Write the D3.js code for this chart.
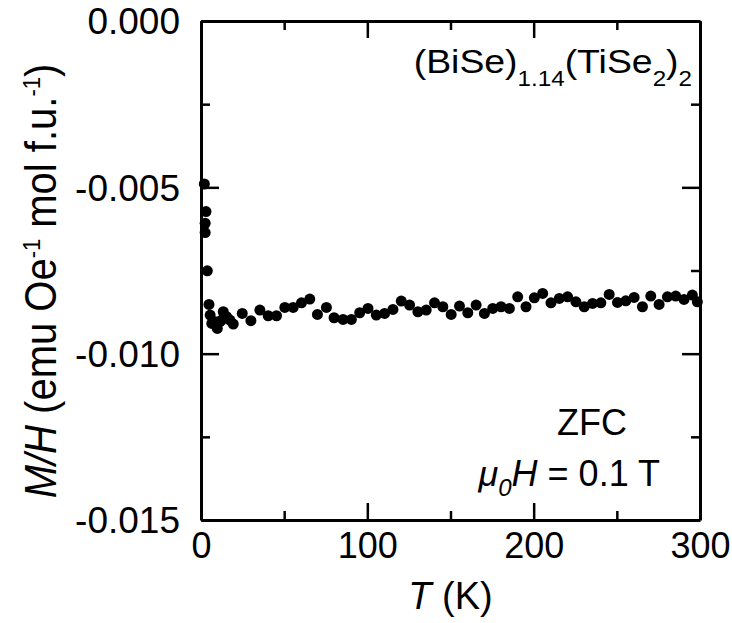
<!DOCTYPE html>
<html>
<head>
<meta charset="utf-8">
<script src="https://cdn.jsdelivr.net/npm/d3@7"></script>
<style>
  body { margin: 0; background: #fff; }
  svg text { font-family: "Liberation Sans", Arial, sans-serif; fill: #000; }
</style>
</head>
<body>
<svg width="732" height="623"></svg>
<script>
(function (d3) {
  'use strict';

  // temperature (K)
  const temps = [2, 3, 2.5, 2.5, 3.8, 4.8, 5.5, 6.5, 8.4, 9.8, 11.4, 12.4, 13.4, 15.4, 17.4, 19.4,
    24.8, 30, 35.4, 40.4, 45.4, 50.4, 55.4, 60.4, 65.4, 70, 75.4, 80, 85.4, 90.4, 95.4,
    100.4, 105.4, 110.4, 115.4, 120.4, 125.4, 130.4, 135.4, 140.4, 145.4, 150.4, 155.4,
    160.4, 165.4, 170.4, 175.4, 180.4, 185.4, 190.4, 195.4, 200.4, 205.4, 210.4, 215.4,
    220.4, 225.4, 230.4, 235.4, 240.4, 245.4, 250.4, 255.4, 260.4, 265.4, 270.4, 275.4,
    280.4, 285.4, 290.4, 295.4, 298.4];
  // M/H (emu Oe-1 mol f.u.-1)
  const mh = [-0.00490, -0.00573, -0.00608, -0.00636, -0.00751, -0.00852, -0.00884, -0.00909,
    -0.00904, -0.00924, -0.00904, -0.00899, -0.00874, -0.00889, -0.00899, -0.00911,
    -0.00879, -0.00901, -0.00869, -0.00886, -0.00886, -0.00861, -0.00861, -0.00847, -0.00836,
    -0.00882, -0.00861, -0.00892, -0.00897, -0.00897, -0.00877,
    -0.00864, -0.00884, -0.00879, -0.00867, -0.00842, -0.00854, -0.00874, -0.00869, -0.00847,
    -0.00859, -0.00882, -0.00857, -0.00877, -0.00854, -0.00879, -0.00864, -0.00859, -0.00864,
    -0.00829, -0.00859, -0.00832, -0.00819, -0.00847, -0.00834, -0.00829, -0.00844, -0.00859,
    -0.00849, -0.00847, -0.00822, -0.00846, -0.00841, -0.00831, -0.00859, -0.00827, -0.00852,
    -0.00829, -0.00827, -0.00837, -0.00824, -0.00844];

  const xMajor = [0, 100, 200, 300];
  const xMinor = [50, 150, 250];
  const yMajor = [0, -0.005, -0.010, -0.015];
  const yMinor = [-0.0025, -0.0075, -0.0125];
  const yTickLabels = ['0.000', '-0.005', '-0.010', '-0.015'];

  const data = temps.map((t, i) => ({ t, v: mh[i] }));

  const svg = d3.select('svg');
  const margin = { top: 21, right: 32, bottom: 103, left: 201 };
  const width = +svg.attr('width');
  const height = +svg.attr('height');
  const innerWidth = width - margin.left - margin.right;
  const innerHeight = height - margin.top - margin.bottom;

  const xScale = d3.scaleLinear().domain([0, 300]).range([0, innerWidth]);
  const yScale = d3.scaleLinear().domain([-0.015, 0]).range([innerHeight, 0]);

  const g = svg.append('g')
    .attr('transform', `translate(${margin.left},${margin.top})`);

  // points
  g.selectAll('circle').data(data)
    .enter().append('circle')
      .attr('cx', d => xScale(d.t))
      .attr('cy', d => yScale(d.v))
      .attr('r', 5.5)
      .attr('fill', '#000');

  const styleAxis = (sel, fontSize) => {
    sel.selectAll('.domain').attr('stroke', '#000').attr('stroke-width', 3);
    sel.selectAll('.tick line').attr('stroke', '#000').attr('stroke-width', 2.5);
    sel.selectAll('.tick text')
      .style('font-size', (fontSize || 36) + 'px')
      .style('font-family', '"Liberation Sans", Arial, sans-serif')
      .attr('fill', '#000');
  };

  // bottom axis
  const xAxisG = g.append('g')
    .attr('transform', `translate(0,${innerHeight})`)
    .call(d3.axisBottom(xScale).tickValues(xMajor).tickFormat(d3.format('d'))
      .tickSizeInner(-17).tickSizeOuter(0));
  styleAxis(xAxisG, 36);
  xAxisG.selectAll('.tick text').attr('y', 38).attr('dy', 0);

  const xMinorG = g.append('g')
    .attr('transform', `translate(0,${innerHeight})`)
    .call(d3.axisBottom(xScale).tickValues(xMinor).tickFormat('')
      .tickSizeInner(-9).tickSizeOuter(0));
  styleAxis(xMinorG);
  xMinorG.select('.domain').remove();

  // top axis
  const xTopG = g.append('g')
    .call(d3.axisTop(xScale).tickValues(xMajor).tickFormat('')
      .tickSizeInner(-17).tickSizeOuter(0));
  styleAxis(xTopG);
  const xTopMinorG = g.append('g')
    .call(d3.axisTop(xScale).tickValues(xMinor).tickFormat('')
      .tickSizeInner(-9).tickSizeOuter(0));
  styleAxis(xTopMinorG);
  xTopMinorG.select('.domain').remove();

  // left axis
  const yAxisG = g.append('g')
    .call(d3.axisLeft(yScale).tickValues(yMajor)
      .tickFormat((d, i) => yTickLabels[i])
      .tickSizeInner(-18).tickSizeOuter(0));
  styleAxis(yAxisG, 37);
  yAxisG.selectAll('.tick text').attr('x', -21).attr('dy', '0.35em');

  const yMinorG = g.append('g')
    .call(d3.axisLeft(yScale).tickValues(yMinor).tickFormat('')
      .tickSizeInner(-9).tickSizeOuter(0));
  styleAxis(yMinorG);
  yMinorG.select('.domain').remove();

  // right axis
  const yRightG = g.append('g')
    .attr('transform', `translate(${innerWidth},0)`)
    .call(d3.axisRight(yScale).tickValues(yMajor).tickFormat('')
      .tickSizeInner(-18).tickSizeOuter(0));
  styleAxis(yRightG);
  const yRightMinorG = g.append('g')
    .attr('transform', `translate(${innerWidth},0)`)
    .call(d3.axisRight(yScale).tickValues(yMinor).tickFormat('')
      .tickSizeInner(-9).tickSizeOuter(0));
  styleAxis(yRightMinorG);
  yRightMinorG.select('.domain').remove();

  // x axis label
  const xLabel = svg.append('text')
    .attr('x', margin.left + innerWidth / 2)
    .attr('y', 609)
    .attr('text-anchor', 'middle')
    .style('font-size', '38px');
  xLabel.append('tspan').style('font-style', 'italic').text('T');
  xLabel.append('tspan').text(' (K)');

  // y axis label
  const yLabel = svg.append('text')
    .attr('transform', `translate(56,281) rotate(-90) scale(1,1.1)`)
    .attr('text-anchor', 'middle')
    .style('font-size', '40px');
  yLabel.append('tspan').style('font-style', 'italic').text('M/H');
  yLabel.append('tspan').text(' (emu Oe');
  yLabel.append('tspan').attr('dy', -15).style('font-size', '22px').text('-1');
  yLabel.append('tspan').attr('dy', 15).text(' mol f.u.');
  yLabel.append('tspan').attr('dy', -15).style('font-size', '22px').text('-1');
  yLabel.append('tspan').attr('dy', 15).text(')');

  // compound annotation
  const comp = svg.append('text')
    .attr('transform', 'translate(692,73) scale(1.1,1)')
    .attr('text-anchor', 'end')
    .style('font-size', '34px');
  comp.append('tspan').text('(BiSe)');
  comp.append('tspan').attr('dy', 13).style('font-size', '22px').text('1.14');
  comp.append('tspan').attr('dy', -13).text('(TiSe');
  comp.append('tspan').attr('dy', 13).style('font-size', '22px').text('2');
  comp.append('tspan').attr('dy', -13).text(')');
  comp.append('tspan').attr('dy', 13).style('font-size', '22px').text('2');

  // field annotation
  svg.append('text')
    .attr('x', 592)
    .attr('y', 435)
    .attr('text-anchor', 'middle')
    .style('font-size', '36px')
    .text('ZFC');

  const field = svg.append('text')
    .attr('x', 660)
    .attr('y', 486)
    .attr('text-anchor', 'end')
    .style('font-size', '36px');
  field.append('tspan').style('font-style', 'italic').text('μ');
  field.append('tspan').attr('dy', 10).style('font-style', 'italic').style('font-size', '24px').text('0');
  field.append('tspan').attr('dy', -10).style('font-style', 'italic').text('H');
  field.append('tspan').text(' = 0.1 T');

}(d3));
</script>
</body>
</html>
